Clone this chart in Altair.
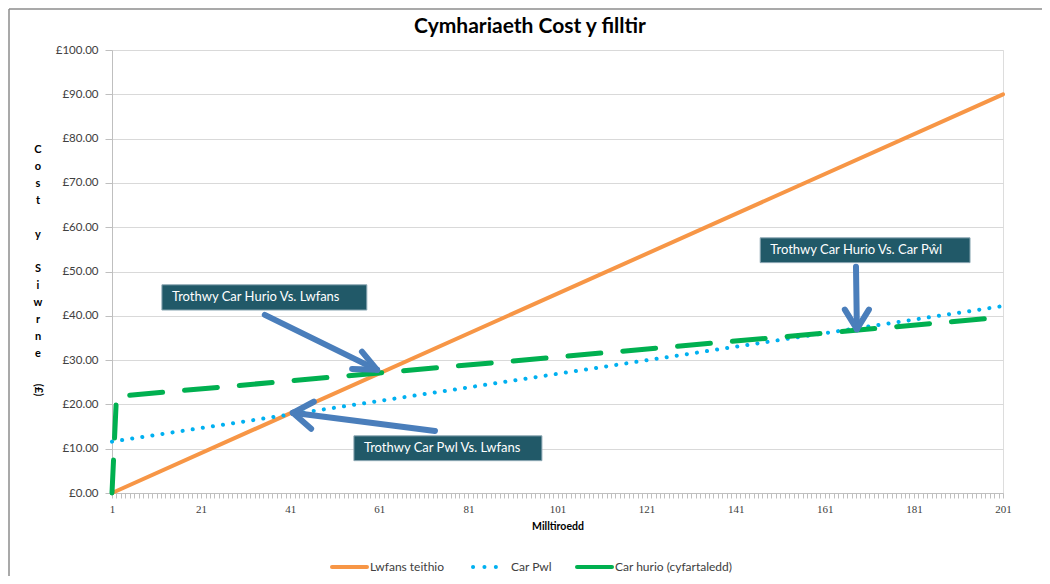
import altair as alt
import pandas as pd

# ---------------- data ----------------
lwfans_miles = [1, 201]
lwfans_cost = [0.0, 90.0]
pwl_miles = [1, 201]
pwl_cost = [11.6, 42.2]
hurio_miles = [1, 2, 201]
hurio_cost = [0.0, 21.8, 39.7]

series_names = ["Lwfans teithio", "Car Pwl", "Car hurio (cyfartaledd)"]
chart_title = "Cymhariaeth Cost y filltir"
x_title = "Milltiroedd"
y_title_words = ["Cost", "y", "Siwrne"]
y_title_tail = "(\u00a3)"
x_label_every = 20
x_categories = list(range(1, 202))
y_ticks = [0, 10, 20, 30, 40, 50, 60, 70, 80, 90, 100]

# annotation boxes (data coordinates)
box_labels = ["Trothwy Car Hurio Vs. Lwfans", "Trothwy Car Pwl Vs. Lwfans",
              "Trothwy Car Hurio Vs. Car P\u0175l"]
box_x1 = [12.2, 55.3, 146.5]
box_x2 = [58.2, 97.5, 193.6]
box_y1 = [41.3, 7.3, 52.0]
box_y2 = [47.0, 12.9, 57.6]

# arrows: tail -> tip, plus the two arm ends of the head
arrow_tail_x = [35.3, 73.5, 168.0]
arrow_tail_y = [40.2, 14.0, 51.1]
arrow_tip_x = [60.5, 41.6, 168.2]
arrow_tip_y = [27.8, 18.1, 37.0]
arm1_x = [57.1, 46.3, 165.5]
arm1_y = [31.9, 20.6, 41.4]
arm2_x = [54.9, 45.7, 170.9]
arm2_y = [28.0, 14.5, 41.4]

FONT = "Lato"
W, H = 891, 443

xscale = alt.Scale(domain=[1, 201], nice=False, zero=False)
yscale = alt.Scale(domain=[0, 100], nice=False, zero=True)

xaxis = alt.Axis(
    values=x_categories,
    labelExpr=f"(datum.value - 1) % {x_label_every} == 0 ? datum.label : ''",
    labelFont="Liberation Serif", labelFontSize=11, labelColor="#404040",
    labelOverlap=False, labelFlush=False, labelPadding=5,
    tickSize=5, tickColor="#BFBFBF", domainColor="#BFBFBF", grid=False,
    title=x_title, titleFont=FONT, titleFontSize=10.5, titleFontWeight="bold",
    titleColor="#000000", titlePadding=7,
)
yaxis = alt.Axis(
    values=y_ticks,
    labelExpr="'\u00a3' + format(datum.value, '.2f')",
    labelFont=FONT, labelFontSize=11.5, labelColor="#404040", labelPadding=7,
    tickSize=7, tickColor="#BFBFBF", domainColor="#BFBFBF",
    grid=True, gridColor="#D9D9D9",
    title=None,
)


def X(field):
    return alt.X(field, type="quantitative", scale=xscale, axis=xaxis)


def Y(field):
    return alt.Y(field, type="quantitative", scale=yscale, axis=yaxis)


df_lw = pd.DataFrame({"mile": lwfans_miles, "cost": lwfans_cost})
df_pwl = pd.DataFrame({"mile": pwl_miles, "cost": pwl_cost})
df_hur = pd.DataFrame({"mile": hurio_miles, "cost": hurio_cost})

line_lw = alt.Chart(df_lw).mark_line(
    color="#F79646", strokeWidth=4, strokeCap="round"
).encode(x=X("mile"), y=Y("cost"))

line_pwl = alt.Chart(df_pwl).mark_line(
    color="#00B0F0", strokeWidth=4, strokeCap="round", strokeDash=[0.1, 10.1]
).encode(x=X("mile"), y=Y("cost"))

line_hur = alt.Chart(df_hur).mark_line(
    color="#00B050", strokeWidth=5, strokeCap="round", strokeJoin="round",
    strokeDash=[33, 22]
).encode(x=X("mile"), y=Y("cost"))

# arrows
df_arrows = pd.DataFrame({
    "x1": arrow_tail_x + arrow_tip_x + arrow_tip_x,
    "y1": arrow_tail_y + arrow_tip_y + arrow_tip_y,
    "x2": arrow_tip_x + arm1_x + arm2_x,
    "y2": arrow_tip_y + arm1_y + arm2_y,
})
arrows = alt.Chart(df_arrows).mark_rule(
    color="#4A7EBB", strokeWidth=6, strokeCap="round"
).encode(x=X("x1"), y=Y("y1"), x2="x2", y2="y2")

df_boxes = pd.DataFrame({"label": box_labels, "bx1": box_x1, "bx2": box_x2,
                         "by1": box_y1, "by2": box_y2})
boxes = alt.Chart(df_boxes).mark_rect(
    fill="#215968", stroke="#8EA9B5", strokeWidth=1
).encode(x=X("bx1"), x2="bx2", y=Y("by1"), y2="by2")

box_text = alt.Chart(df_boxes).transform_calculate(
    ym="(datum.by1 + datum.by2) / 2"
).mark_text(
    align="left", baseline="middle", dx=10, color="white", font=FONT, fontSize=13
).encode(x=X("bx1"), y=Y("ym"), text="label:N")

one = alt.Data(values=[{}])

# stacked y-axis title: each word's letters on their own lines, a blank line between words
LINE_H = 17
Y_TITLE_TOP = 94
y_title_layers = []
line_no = 0
for word in y_title_words:
    y_title_layers.append(
        alt.Chart(one).mark_text(
            text=list(word), lineHeight=LINE_H, font=FONT, fontSize=11,
            fontWeight="bold", color="#000000", align="center", baseline="top"
        ).encode(x=alt.value(-74), y=alt.value(Y_TITLE_TOP + LINE_H * line_no))
    )
    line_no += len(word) + 1
# "(£)" drawn rotated like the reference
pound = alt.Chart(one).mark_text(
    text=y_title_tail, angle=90, font=FONT, fontSize=11, fontWeight="bold",
    color="#000000", align="center", baseline="middle"
).encode(x=alt.value(-74), y=alt.value(340))

# chart title
title = alt.Chart(one).mark_text(
    text=chart_title, font=FONT, fontSize=21, fontWeight="bold", color="#000000",
    align="center", baseline="alphabetic"
).encode(x=alt.value(418), y=alt.value(-17))

# manual legend
LEG_Y = 517
leg_lw = alt.Chart(one).mark_rule(color="#F79646", strokeWidth=4, strokeCap="round").encode(
    x=alt.value(220), x2=alt.value(255), y=alt.value(LEG_Y))
leg_pwl = alt.Chart(one).mark_rule(color="#00B0F0", strokeWidth=4, strokeCap="round",
                                   strokeDash=[0.1, 11.3]).encode(
    x=alt.value(361), x2=alt.value(395), y=alt.value(LEG_Y))
leg_hur = alt.Chart(one).mark_rule(color="#00B050", strokeWidth=4, strokeCap="round").encode(
    x=alt.value(465), x2=alt.value(500), y=alt.value(LEG_Y))


def leg_text(label, xpos):
    return alt.Chart(one).mark_text(
        text=label, align="left", baseline="middle", font=FONT, fontSize=12,
        color="#404040"
    ).encode(x=alt.value(xpos), y=alt.value(LEG_Y))


legend = [leg_lw, leg_pwl, leg_hur,
          leg_text(series_names[0], 258), leg_text(series_names[1], 399),
          leg_text(series_names[2], 503)]

# outer frame (left and top edges)
frame_left = alt.Chart(one).mark_rule(color="#8C8C8C", strokeWidth=1.5).encode(
    x=alt.value(-103), y=alt.value(-41), y2=alt.value(H + 83))
frame_top = alt.Chart(one).mark_rule(color="#8C8C8C", strokeWidth=1.5).encode(
    x=alt.value(-103), x2=alt.value(W + 39), y=alt.value(-41))

chart = alt.layer(
    line_lw, line_pwl, line_hur, arrows, boxes, box_text, *y_title_layers, pound, title,
    *legend, frame_left, frame_top
).properties(
    width=W, height=H,
    autosize=alt.AutoSizeParams(type="none"),
    padding={"left": 104, "top": 42, "right": 39, "bottom": 83},
).configure_view(stroke=None).configure(background="white")

chart.save("out.html", embed_options={"renderer": "svg", "actions": False})
